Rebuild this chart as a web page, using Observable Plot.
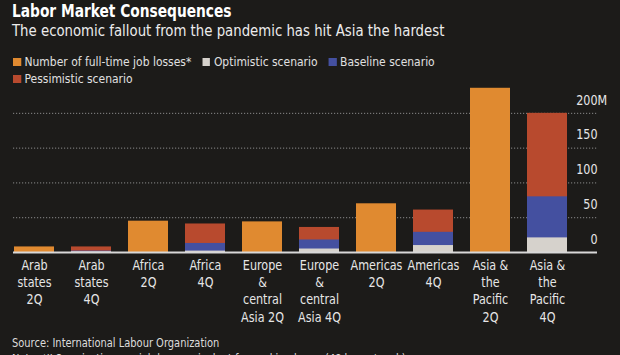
<!DOCTYPE html>
<html><head><meta charset="utf-8">
<script src="https://cdn.jsdelivr.net/npm/d3@7"></script>
<script src="https://cdn.jsdelivr.net/npm/@observablehq/plot@0.6"></script>
<style>
html,body{margin:0;padding:0;background:#1c1b19;}
#wrap{position:relative;width:620px;height:355px;overflow:hidden;background:#1c1b19;font-family:"DejaVu Sans Condensed","DejaVu Sans",sans-serif;color:#e6e6e6;}
.abs{position:absolute;white-space:nowrap;transform-origin:0 0;}
#title{left:12px;top:0px;font-size:17px;font-weight:bold;color:#fff;line-height:22px;transform:scaleX(0.9);}
#sub{left:12px;top:21px;font-size:15px;color:#ececec;line-height:20px;transform:scaleX(0.985);}
.leg{font-size:13px;line-height:17px;color:#e0e0e0;transform:scaleX(0.92);}
.sw{display:inline-block;width:8.5px;height:8.5px;margin-right:4px;vertical-align:0px;}
#chart{left:0;top:80px;}
#src{left:12px;top:335px;font-size:12.5px;line-height:16px;color:#dcdcdc;transform:scaleX(0.88);}
</style></head>
<body><div id="wrap">
<div id="title" class="abs">Labor Market Consequences</div>
<div id="sub" class="abs">The economic fallout from the pandemic has hit Asia the hardest</div>
<div id="leg1" class="abs leg" style="left:13px;top:53px;"></div>
<div id="leg2" class="abs leg" style="left:13px;top:70px;"></div>
<div id="chart" class="abs"></div>
<div id="src" class="abs">Source: International Labour Organization<br>Note: *ILO projections on job loss equivalent for working hours (48 hours/week)</div>
</div>
<script>
// categories (x-axis order) and their wrapped tick labels
const categories = ["Arab states 2Q","Arab states 4Q","Africa 2Q","Africa 4Q","Europe & central Asia 2Q","Europe & central Asia 4Q","Americas 2Q","Americas 4Q","Asia & the Pacific 2Q","Asia & the Pacific 4Q"];
const tickLabels = ["Arab\nstates\n2Q","Arab\nstates\n4Q","Africa\n2Q","Africa\n4Q","Europe\n&\ncentral\nAsia 2Q","Europe\n&\ncentral\nAsia 4Q","Americas\n2Q","Americas\n4Q","Asia &\nthe\nPacific\n2Q","Asia &\nthe\nPacific\n4Q"];
// 2Q full-time job losses (millions)
const q2Categories = ["Arab states 2Q","Africa 2Q","Europe & central Asia 2Q","Americas 2Q","Asia & the Pacific 2Q"];
const q2Losses = [8, 45, 44, 70, 236];
// 4Q scenarios (millions)
const q4Categories = ["Arab states 4Q","Africa 4Q","Europe & central Asia 4Q","Americas 4Q","Asia & the Pacific 4Q"];
const optimistic = [1, 2, 5, 10, 21];
const baseline = [2, 13, 18, 29, 80];
const pessimistic = [8, 41, 36, 61, 200];
const yTicks = [0, 50, 100, 150, 200];

const seriesNames = ["Number of full-time job losses*","Optimistic scenario","Baseline scenario","Pessimistic scenario"];
const colors = ["#e08a30","#d6d2cc","#4450a0","#b84a2e"];

// legend
const leg1 = document.getElementById("leg1"), leg2 = document.getElementById("leg2");
seriesNames.forEach((n,i)=>{
  const s = document.createElement("span");
  s.style.marginRight = "12px";
  s.innerHTML = `<span class="sw" style="background:${colors[i]}"></span>${n}`;
  (i<3?leg1:leg2).appendChild(s);
});

const q2 = q2Categories.map((c,i)=>({cat:c, v:q2Losses[i]}));
const q4 = q4Categories.map((c,i)=>({cat:c, opt:optimistic[i], base:baseline[i], pess:pessimistic[i]}));

const chart = Plot.plot({
  width: 620, height: 252,
  marginLeft: 13, marginRight: 53, marginTop: 5, marginBottom: 80,
  style: {background:"transparent", color:"#e6e6e6", fontFamily:'"DejaVu Sans Condensed","DejaVu Sans",sans-serif'},
  x: {domain: categories, paddingInner: 0.3, paddingOuter: 0, align: 0.5, label: null},
  y: {domain: [0, 240], axis: null},
  marks: [
    Plot.ruleY(yTicks.filter(d=>d>0), {stroke:"#8a8a8a", strokeDasharray:"1.2,1.8", strokeWidth:1, insetRight:-30}),
    Plot.barY(q2, {x:"cat", y:"v", fill:colors[0]}),
    Plot.barY(q4, {x:"cat", y:"pess", fill:colors[3]}),
    Plot.barY(q4, {x:"cat", y:"base", fill:colors[2]}),
    Plot.barY(q4, {x:"cat", y:"opt", fill:colors[1]}),
    Plot.ruleY([0], {stroke:"#d8d8d8", strokeWidth:2, insetRight:-30}),
    Plot.text(yTicks, {y:d=>d, text:d=>String(d), frameAnchor:"right", dx:30, dy:-13, textAnchor:"end", fontSize:13.5, fill:"#e6e6e6"}),
    Plot.text(yTicks.slice(-1), {y:d=>d, text:()=>"M", frameAnchor:"right", dx:30, dy:-13, textAnchor:"start", fontSize:13.5, fill:"#e6e6e6"}),
    Plot.axisX({tickSize:0, tickPadding:5, fontSize:13.5, lineHeight:1.28, tickFormat:(d)=>tickLabels[categories.indexOf(d)], fill:"#e6e6e6"})
  ]
});
// condense text horizontally to mimic the narrow typeface
chart.querySelectorAll("text").forEach(t=>{
  const tr = t.getAttribute("transform") || "";
  t.setAttribute("transform", tr + " scale(0.92,1)");
});
document.getElementById("chart").appendChild(chart);
</script>
</body></html>
